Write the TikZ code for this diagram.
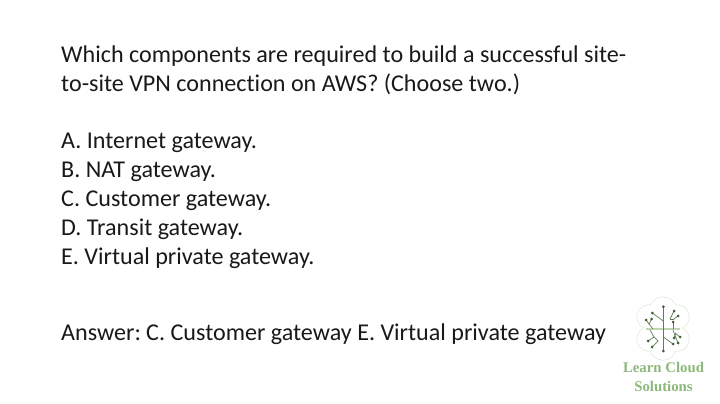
\documentclass[tikz,border=0pt]{standalone}
\usepackage{fontspec}
\setmainfont[Ligatures=NoCommon]{Carlito}
\newfontfamily\logofont{Liberation Serif}
\usepackage{tikz}
\definecolor{logogreen}{HTML}{8DB87B}
\definecolor{lobegreen}{HTML}{D5E3CB}
\definecolor{branchgreen}{HTML}{5F7F52}
\definecolor{dotgreen}{HTML}{3E5F34}
\tikzset{
    textline/.style={anchor=base west, inner sep=0pt, font=\fontsize{24.1}{28}\selectfont, text=black!90},
    logotext/.style={anchor=base, inner sep=0pt, font=\logofont\bfseries\fontsize{14.8}{17}\selectfont, text=logogreen}
}
\newcommand{\qline}[3]{ \node[textline] (#1) at (61,#2) {#3};}
\newcommand{\lobe}[3]{ \draw[lobegreen, line width=1pt] ( #1 , #2 ) circle ( #3 );}
\newcommand{\lobef}[3]{ \fill[white] ( #1 , #2 ) circle ( #3 );}
\newcommand{\twig}[4]{ \draw[branchgreen, line width=0.7pt] ( #1 , #2 ) -- ( #3 , #4 ); \fill[dotgreen] ( #3 , #4 ) circle ( 1.5 );}
\newcommand{\bend}[4]{ \draw[branchgreen, line width=0.7pt] ( #1 , #2 ) -- ( #3 , #4 );}
\begin{document}
\begin{tikzpicture}[x=1pt,y=-1pt]
        \useasboundingbox (0,0) rectangle (720,404);
        % question
        \qline{qone}{63}{Which components are required to build a successful site-}
        \qline{qtwo}{92}{to-site VPN connection on AWS? (Choose two.)}
        % choices
        \qline{optA}{148}{A. Internet gateway.}
        \qline{optB}{177}{B. NAT gateway.}
        \qline{optC}{206}{C. Customer gateway.}
        \qline{optD}{235}{D. Transit gateway.}
        \qline{optE}{264}{E. Virtual private gateway.}
        % answer
        \qline{answer}{340}{Answer:\kern-2pt{} C. Customer gateway E. Virtual private gateway}
        % logo outline
        \lobe{663}{310}{13}
        \lobe{649}{317}{12}
        \lobe{677}{317}{12}
        \lobe{649}{339}{12}
        \lobe{677}{339}{12}
        \lobe{663}{347}{13}
        \lobef{663}{310}{13}
        \lobef{649}{317}{12}
        \lobef{677}{317}{12}
        \lobef{649}{339}{12}
        \lobef{677}{339}{12}
        \lobef{663}{347}{13}
        \lobef{663}{328}{17}
        % logo trunk
        \draw[lobegreen!70!logogreen, line width=1.2pt] (646,329) -- (680,329);
        \twig{663.3}{329}{663.3}{306.7}
        \twig{663.3}{329}{663.3}{351}
        \twig{663.3}{321}{652.3}{313}
        % upper left
        \bend{653}{329}{649}{324}
        \twig{649}{324}{646}{320}
        \twig{649}{324}{651.7}{319}
        % upper right
        \bend{673}{329}{673}{322}
        \fill[dotgreen] (673,322) circle (1.5);
        \twig{670}{319}{674}{311}
        \bend{670}{319}{674}{319}
        \twig{674}{319}{678}{316}
        % lower left
        \bend{650}{330}{654}{337}
        \twig{654}{337}{648}{341}
        \bend{654}{337}{658}{341}
        \twig{658}{341}{652}{347}
        % lower middle and right
        \twig{663.3}{337}{673}{344}
        \twig{673}{330}{678}{343}
        \twig{675}{333}{680}{337}
        \twig{675.5}{334}{674}{338}
        % logo text
        \node[logotext] (logoA) at (663.5,372.5) {Learn Cloud};
        \node[logotext] (logoB) at (663.5,391.5) {Solutions};
\end{tikzpicture}
\end{document}
